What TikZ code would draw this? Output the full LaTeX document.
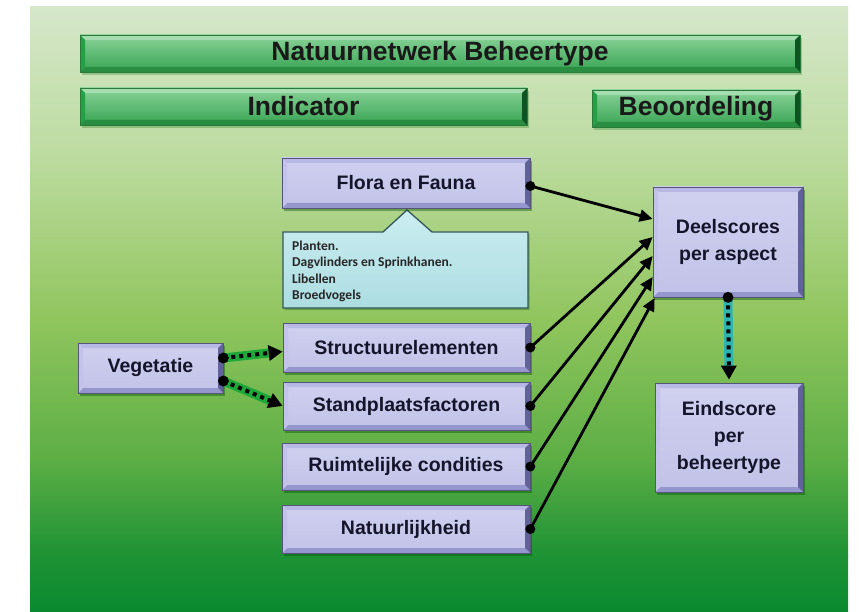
\documentclass[tikz,border=0pt]{standalone}
\usepackage{fontspec}
\newfontfamily\arialf{Liberation Sans}
\newfontfamily\calib{Carlito}
\usetikzlibrary{shadows,arrows.meta,calc}
\definecolor{bgA}{HTML}{D6E7CA}
\definecolor{bgB}{HTML}{BBDB9E}
\definecolor{bgC}{HTML}{90C55D}
\definecolor{bgD}{HTML}{5CAE45}
\definecolor{bgE}{HTML}{1E9234}
\definecolor{bgF}{HTML}{0A8A30}
\definecolor{lavtop}{HTML}{D0D0F0}
\definecolor{lavmid}{HTML}{F0F0FB}
\definecolor{lavbot}{HTML}{C2C2E8}
\definecolor{lavline}{HTML}{55557A}
\definecolor{lavR}{HTML}{62629A}
\definecolor{lavT}{HTML}{B8B8E6}
\definecolor{lavB}{HTML}{9696CE}
\definecolor{lavL}{HTML}{C2C2EA}
\definecolor{grtop}{HTML}{8AD398}
\definecolor{grmid}{HTML}{45B461}
\definecolor{grbot}{HTML}{36A352}
\definecolor{grline}{HTML}{2A7A3A}
\definecolor{grR}{HTML}{0C5523}
\definecolor{grT}{HTML}{A6DDB0}
\definecolor{grB}{HTML}{2A8E42}
\definecolor{grL}{HTML}{24A046}
\definecolor{txt}{HTML}{14142A}
\definecolor{calltop}{HTML}{CBEDF1}
\definecolor{callbot}{HTML}{ACDDE1}
\definecolor{callline}{HTML}{35585C}
\definecolor{vgreen}{HTML}{1FA83A}
\definecolor{teal}{HTML}{2DB5B0}
\begin{document}
\begin{tikzpicture}[x=1pt,y=-1pt,
  bevel/.style n args={5}{path picture={
    \coordinate (ppsw) at (path picture bounding box.south west);
    \coordinate (ppne) at (path picture bounding box.north east);
    \coordinate (ppse) at (ppne |- ppsw);
    \coordinate (ppnw) at (ppsw |- ppne);
    \fill[#2] (ppnw) -- (ppne) -- ([shift={(-#5,-#5)}]ppne) -- ([shift={(#5,-#5)}]ppnw) -- cycle;
    \fill[#3] (ppsw) -- (ppse) -- ([shift={(-#5,#5)}]ppse) -- ([shift={(#5,#5)}]ppsw) -- cycle;
    \fill[#4] (ppnw) -- (ppsw) -- ([shift={(#5,#5)}]ppsw) -- ([shift={(#5,-#5)}]ppnw) -- cycle;
    \fill[#1] (ppne) -- (ppse) -- ([shift={(-#5,#5)}]ppse) -- ([shift={(-#5,-#5)}]ppne) -- cycle;
  }},
  lav/.style={rectangle, draw=lavline, line width=0.7pt, top color=lavtop, middle color=lavmid, bottom color=lavbot,
    text=txt, font=\arialf\bfseries\fontsize{19.5}{27}\selectfont, align=center, inner sep=2pt,
    drop shadow={shadow xshift=2pt, shadow yshift=-3pt, opacity=0.4, fill=black!70!green},
    bevel={lavR}{lavT}{lavB}{lavL}{5pt}},
  head/.style={rectangle, draw=grline, line width=0.6pt, top color=grtop, middle color=grmid, bottom color=grbot,
    text=black!90, font=\arialf\bfseries\fontsize{26.5}{30}\selectfont, inner sep=0pt,
    drop shadow={shadow xshift=2pt, shadow yshift=-3pt, opacity=0.25, fill=black!60!green},
    bevel={grR}{grT}{grB}{grL}{5pt}},
  blk/.style={draw=black, line width=2.8pt, -{Triangle[length=13pt,width=12pt]}},
  gline/.style={draw=vgreen, line width=9pt, shorten >=10pt},
  tline/.style={draw=teal, line width=9pt, shorten >=10pt},
  ddots/.style={draw=black, line width=4pt, dash pattern=on 4pt off 4pt, -{Triangle[length=14pt,width=15pt]}},
  callout/.style={draw=callline, line width=1.3pt, top color=calltop, bottom color=callbot,
    drop shadow={shadow xshift=1.5pt, shadow yshift=-2pt, opacity=0.3, fill=black!70!green}},
  calltext/.style={font=\calib\bfseries\fontsize{13.5}{16.2}\selectfont, text=black!85, align=left, inner sep=0pt, anchor=north west}
]
\useasboundingbox (0,0) rectangle (859,612);
% background
\fill[white] (0,0) rectangle (859,612);
\fill[top color=bgA, bottom color=bgB] (30,7) rectangle (848,160.5);
\fill[top color=bgB, bottom color=bgC] (30,160) rectangle (848,320.5);
\fill[top color=bgC, bottom color=bgD] (30,320) rectangle (848,460.5);
\fill[top color=bgD, bottom color=bgE] (30,460) rectangle (848,555.5);
\fill[top color=bgE, bottom color=bgF] (30,555) rectangle (848,612);
% headings
\node[head, minimum width=720pt, minimum height=37pt] (title) at (440,53.5) {Natuurnetwerk Beheertype};
\node[head, minimum width=447pt, minimum height=37pt] (ind) at (303.5,106.5) {Indicator};
\node[head, minimum width=208pt, minimum height=37pt] (beo) at (696,108.5) {Beoordeling};
% callout
\draw[callout] (283,232) -- (383,232) -- (407,210) -- (432,232) -- (528,232) -- (528,308) -- (283,308) -- cycle;
\node[calltext] (calltxt) at (292,241) {Planten.\\Dagvlinders en Sprinkhanen.\\Libellen\\Broedvogels};
% boxes
\node[lav, minimum width=248pt, minimum height=50pt] (flora) at (406,183) {Flora en Fauna};
\node[lav, minimum width=247pt, minimum height=49pt] (struct) at (406.5,347.5) {Structuurelementen};
\node[lav, minimum width=247pt, minimum height=48pt] (stand) at (406.5,406) {Standplaatsfactoren};
\node[lav, minimum width=248pt, minimum height=47pt] (ruim) at (406,466.5) {Ruimtelijke condities};
\node[lav, minimum width=248pt, minimum height=48pt] (natuur) at (406,529) {Natuurlijkheid};
\node[lav, minimum width=145pt, minimum height=50pt] (veg) at (150.5,368) {Vegetatie};
\node[lav, minimum width=150pt, minimum height=110pt] (deel) at (728,242) {Deelscores\\per aspect};
\node[lav, minimum width=148pt, minimum height=109pt] (eind) at (729,437.5) {Eindscore\\per\\beheertype};
% black arrows
\draw[blk] ([yshift=-3pt]flora.east) -- ([yshift=23pt]deel.west);
\draw[blk] (struct.east) -- ([yshift=5pt]deel.west);
\draw[blk] (stand.east) -- ([yshift=-14pt]deel.west);
\draw[blk] (ruim.east) -- ([yshift=-35pt]deel.west);
\draw[blk] (natuur.east) -- ([yshift=-56pt,xshift=2pt]deel.west);
\foreach \p in {([yshift=-3pt]flora.east), (struct.east), (stand.east), (ruim.east), (natuur.east)}
  \fill[black] \p circle[radius=5pt];
% vegetatie dotted arrows
\draw[gline] ([yshift=10pt]veg.east) -- ([yshift=-4pt]struct.west);
\draw[ddots] ([yshift=10pt]veg.east) -- ([yshift=-4pt]struct.west);
\draw[gline] ([yshift=-13pt]veg.east) -- (stand.west);
\draw[ddots] ([yshift=-13pt]veg.east) -- (stand.west);
\fill[black] ([yshift=10pt]veg.east) circle[radius=5.5pt];
\fill[black] ([yshift=-13pt]veg.east) circle[radius=5.5pt];
% deel -> eind
\draw[tline] (deel.south) -- ([yshift=3pt]eind.north);
\draw[ddots] (deel.south) -- ([yshift=3pt]eind.north);
\fill[black] (deel.south) circle[radius=5.5pt];
\end{tikzpicture}
\end{document}
